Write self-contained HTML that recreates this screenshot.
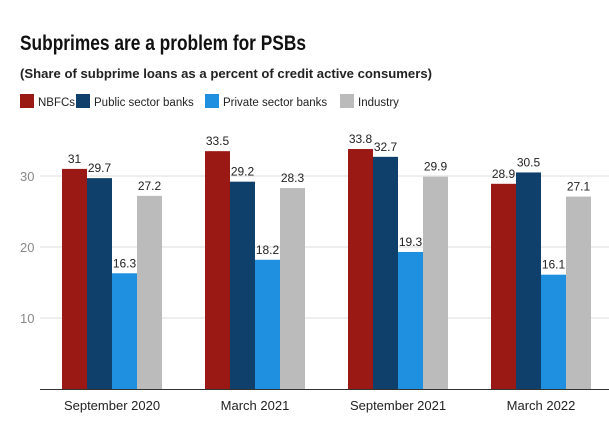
<!DOCTYPE html>
<html><head><meta charset="utf-8"><style>
body{margin:0;background:#fff;font-family:"Liberation Sans",sans-serif;}
svg{display:block}
</style></head><body>
<svg width="609" height="425">
<text x="20" y="50" font-size="21" font-weight="bold" fill="#111" textLength="286" lengthAdjust="spacingAndGlyphs">Subprimes are a problem for PSBs</text>
<text x="20" y="78" font-size="13" font-weight="bold" fill="#222" textLength="412" lengthAdjust="spacingAndGlyphs">(Share of subprime loans as a percent of credit active consumers)</text>
<g id="legend"></g>
<g id="grid"></g>
<g id="bars"></g>
<line x1="40" x2="609" y1="389.5" y2="389.5" stroke="#333" stroke-width="1"/>
<g id="xlabels"></g>
</svg>
<script>
const categories=["September 2020","March 2021","September 2021","March 2022"];
const seriesNames=["NBFCs","Public sector banks","Private sector banks","Industry"];
const nbfc=[31,33.5,33.8,28.9];
const psb=[29.7,29.2,32.7,30.5];
const pvt=[16.3,18.2,19.3,16.1];
const industry=[27.2,28.3,29.9,27.1];
const yTicks=[10,20,30];
const series=[nbfc,psb,pvt,industry];
const colors=["#9b1915","#0f3f6b","#1f8fe0","#bbbbbb"];
const ns="http://www.w3.org/2000/svg";
const y=v=>389-v*7.1;
const gx=i=>112+i*143;
const bw=25;
function mk(t,a,p){const e=document.createElementNS(ns,t);for(const k in a)e.setAttribute(k,a[k]);p.appendChild(e);return e;}
const grid=document.getElementById('grid');
yTicks.forEach(t=>{
 const l=mk('line',{x1:40,x2:609,y1:y(t),y2:y(t),stroke:'#ddd'},grid);
 
 
 const tx=mk('text',{x:20,y:y(t)+5,'font-size':13,fill:'#888'},grid);
 tx.textContent=t;
 
 
});
const bars=document.getElementById('bars');
categories.forEach((c,i)=>{
 series.forEach((s,j)=>{
  const x=gx(i)-50+j*bw;
  const r=mk('rect',{x:x,y:y(s[i]),width:bw,height:389-y(s[i]),fill:colors[j]},bars);
  
  
  const t=mk('text',{x:x+bw/2,y:y(s[i])-6,'font-size':12,fill:'#222','text-anchor':'middle'},bars);
  t.textContent=s[i];
  
  
 });
 const xl=mk('text',{x:gx(i),y:410,'font-size':13,fill:'#222','text-anchor':'middle'},document.getElementById('xlabels'));
 xl.textContent=c;
 
 
});
const leg=document.getElementById('legend');
const lx=[20,76,205,340];
seriesNames.forEach((n,j)=>{
 const r=mk('rect',{x:lx[j],y:94,width:14,height:14,fill:colors[j]},leg);
 
 
 const t=mk('text',{x:lx[j]+18,y:106,'font-size':11.5,fill:'#222'},leg);
 t.textContent=n;
 
 
});
</script>
</body></html>
